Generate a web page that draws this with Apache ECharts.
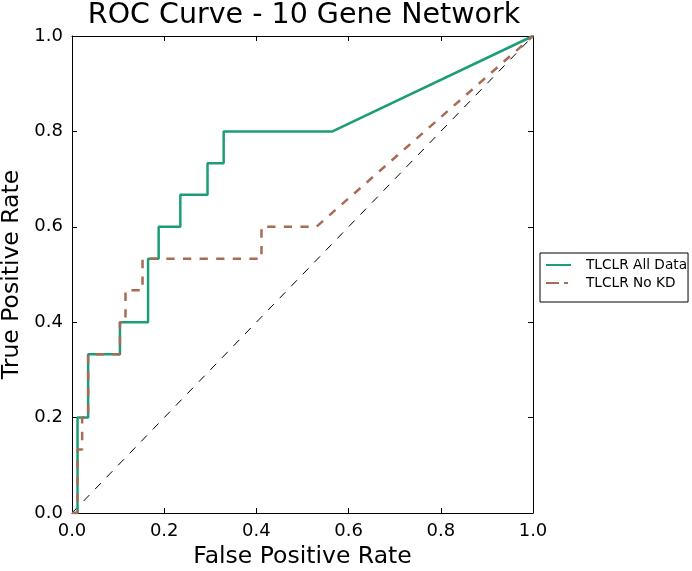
<!DOCTYPE html>
<html>
<head>
<meta charset="utf-8">
<script src="https://cdn.jsdelivr.net/npm/echarts@6/dist/echarts.min.js"></script>
<style>
  html, body { margin: 0; padding: 0; background: #fff; }
  #chart { width: 692px; height: 571px; }
</style>
</head>
<body>
<div id="chart"></div>
<script>
// ROC 曲线数据
var allDataFpr = [0, 0.012, 0.012, 0.035, 0.035, 0.104, 0.104, 0.165, 0.165, 0.188, 0.188, 0.235, 0.235, 0.294, 0.294, 0.329, 0.329, 0.565, 1.0];
var allDataTpr = [0, 0, 0.2, 0.2, 0.333, 0.333, 0.4, 0.4, 0.533, 0.533, 0.6, 0.6, 0.667, 0.667, 0.733, 0.733, 0.8, 0.8, 1.0];
var noKdFpr = [0, 0.012, 0.012, 0.022, 0.022, 0.035, 0.035, 0.104, 0.104, 0.116, 0.116, 0.153, 0.153, 0.411, 0.411, 0.53, 1.0];
var noKdTpr = [0, 0, 0.133, 0.133, 0.2, 0.2, 0.333, 0.333, 0.4, 0.4, 0.467, 0.467, 0.533, 0.533, 0.6, 0.6, 1.0];
var chanceLine = [0, 1];
var seriesNames = ['TLCLR All Data', 'TLCLR No KD'];

function pairs(xs, ys) {
  var out = [];
  for (let i = 0; i < xs.length; i++) {
    out.push([xs[i], ys[i]]);
  }
  return out;
}

var font = 'DejaVu Sans';
var chart = echarts.init(document.getElementById('chart'));

function axis(pos, showLabel, name) {
  var a = {
    type: 'value',
    position: pos,
    min: 0,
    max: 1,
    interval: 0.2,
    splitLine: { show: false },
    axisLine: { show: true, onZero: false, lineStyle: { color: '#000', width: 1 } },
    axisTick: { show: true, inside: true, length: 5, lineStyle: { color: '#000' } },
    axisLabel: {
      show: showLabel,
      margin: 9,
      color: '#000',
      fontFamily: font,
      fontSize: 18,
      formatter: function (v) { return v.toFixed(1); }
    }
  };
  if (name) {
    a.name = name;
    a.nameLocation = 'middle';
    a.nameTextStyle = { color: '#000', fontFamily: font, fontSize: 23.5 };
  }
  return a;
}

var xBottom = axis('bottom', true, 'False Positive Rate');
xBottom.nameGap = 30;
var yLeft = axis('left', true, 'True Positive Rate');
yLeft.nameGap = 41;

chart.setOption({
  animation: false,
  backgroundColor: '#fff',
  title: {
    text: 'ROC Curve - 10 Gene Network',
    left: 304,
    textAlign: 'center',
    top: 1,
    padding: 0,
    textStyle: { color: '#000', fontFamily: font, fontSize: 28.5, fontWeight: 'normal' }
  },
  grid: { left: 72, top: 36, width: 461, height: 477, containLabel: false, outerBoundsMode: 'none' },
  legend: {
    orient: 'vertical',
    left: 540,
    top: 253,
    padding: [5, 1, 12, 5],
    borderColor: '#000',
    borderWidth: 1,
    borderRadius: 0,
    itemWidth: 25,
    itemHeight: 14,
    itemGap: 4,
    itemStyle: { opacity: 0 },
    textStyle: { color: '#000', fontFamily: font, fontSize: 13.7, padding: [0, 0, 0, 10] },
    data: [
      { name: seriesNames[0] },
      { name: seriesNames[1], lineStyle: { type: [13, 5, 4, 30] } }
    ]
  },
  xAxis: [xBottom, axis('top', false)],
  yAxis: [yLeft, axis('right', false)],
  series: [
    {
      name: 'chance',
      type: 'line',
      symbol: 'none',
      data: pairs(chanceLine, chanceLine),
      lineStyle: { color: '#000', width: 1, type: [8.3, 8.3] },
      z: 1
    },
    {
      name: seriesNames[0],
      type: 'line',
      symbol: 'none',
      data: pairs(allDataFpr, allDataTpr),
      itemStyle: { color: '#1b9e77' },
      lineStyle: { color: '#1b9e77', width: 2.5 },
      z: 2
    },
    {
      name: seriesNames[1],
      type: 'line',
      symbol: 'none',
      data: pairs(noKdFpr, noKdTpr),
      itemStyle: { color: '#a86b55' },
      lineStyle: { color: '#a86b55', width: 2.5, type: [8.3, 8.3] },
      z: 3
    }
  ]
});
</script>
</body>
</html>
